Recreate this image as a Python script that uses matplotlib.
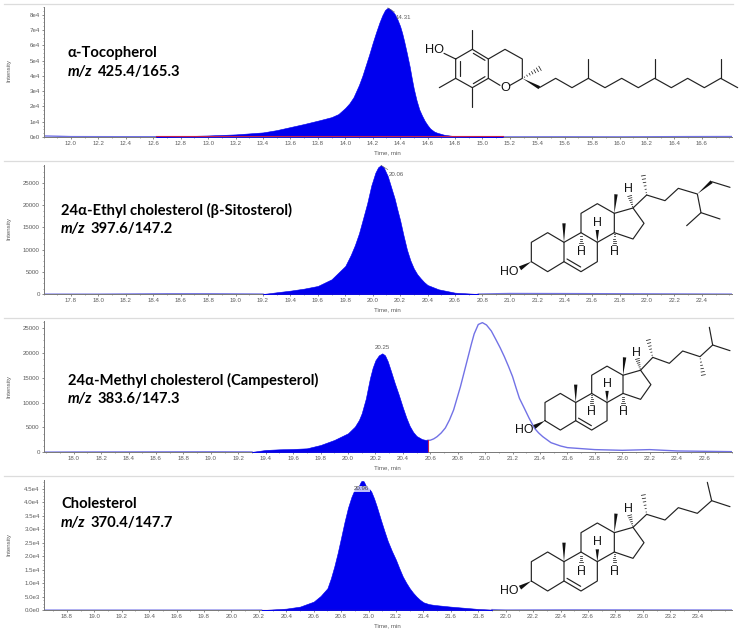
import matplotlib
matplotlib.use('Agg')
import matplotlib.pyplot as plt
from matplotlib.patches import Polygon
from matplotlib.ticker import MultipleLocator
import numpy as np

plt.rcParams['font.family'] = ['Liberation Sans', 'DejaVu Sans']

W, H = 741, 631
BLUE = '#0000ee'
TRACE = '#7272e6'
RED = '#c4204e'
GREY = '#5c5c5c'

# Traces (time in min, intensity in counts)
toco_t = [11.80, 11.90, 12.00, 12.30, 12.62, 12.80, 13.00, 13.20, 13.40, 13.50, 13.60, 13.70, 13.81, 13.90, 13.95,
          14.00, 14.03, 14.06, 14.10, 14.125, 14.15, 14.175, 14.20, 14.225, 14.25, 14.27, 14.29, 14.31, 14.33, 14.36,
          14.38, 14.40, 14.415, 14.43, 14.45, 14.47, 14.485, 14.50, 14.52, 14.54, 14.56, 14.58, 14.60, 14.62, 14.65,
          14.67, 14.72, 14.80, 15.00, 15.15, 15.60, 16.00, 16.50, 16.82]
toco_y = [700, 500, 250, 200, 200, 550, 1000, 1700, 3000, 4500, 6500, 8500, 10900, 13000, 15000,
          19000, 22000, 26000, 34000, 40000, 47000, 54000, 61500, 68500, 75000, 79500, 83000, 84500, 83500, 80500,
          77000, 72500, 68000, 62500, 54500, 46000, 38500, 31500, 24000, 18000, 14000, 10500, 7800, 5500, 3500,
          2800, 1500, 500, 250, 100, 150, 100, 250, 300]

sito_t = [17.60, 18.00, 18.50, 18.80, 19.20, 19.30, 19.40, 19.50, 19.60, 19.70, 19.80, 19.84, 19.87, 19.90, 19.93,
          19.96, 19.99, 20.02, 20.04, 20.06, 20.08, 20.11, 20.135, 20.16, 20.18, 20.20, 20.225, 20.25, 20.275, 20.30,
          20.325, 20.35, 20.375, 20.40, 20.48, 20.60, 20.77, 21.00, 21.50, 22.00, 22.62]
sito_y = [30, 30, 120, 120, 60, 450, 820, 1270, 1870, 3360, 6340, 8800, 11000, 13650, 17000,
          20400, 24400, 27300, 28500, 28950, 28500, 26500, 24000, 21500, 19000, 16640, 13200, 10000, 7600, 5800,
          4500, 3580, 2750, 2090, 1120, 370, 60, 180, 150, 100, 40]

camp_t = [17.78, 18.00, 18.50, 19.00, 19.30, 19.40, 19.50, 19.60, 19.70, 19.80, 19.90, 20.00, 20.05, 20.08, 20.10,
          20.13, 20.16, 20.18, 20.20, 20.225, 20.25, 20.27, 20.29, 20.315, 20.34, 20.37, 20.40, 20.425, 20.45, 20.475,
          20.50, 20.54, 20.58, 20.60, 20.625, 20.65, 20.68, 20.71, 20.74, 20.77, 20.82, 20.87, 20.90, 20.92, 20.95,
          20.98, 21.01, 21.045, 21.08, 21.11, 21.14, 21.17, 21.20, 21.225, 21.25, 21.285, 21.32, 21.36, 21.39, 21.42,
          21.48, 21.55, 21.60, 21.80, 22.00, 22.20, 22.40, 22.80]
camp_y = [30, 60, 80, 100, 80, 470, 600, 670, 800, 1470, 2480, 3820, 5160, 6500, 7840,
          10800, 14880, 17000, 18500, 19500, 19900, 19500, 18300, 16200, 14000, 11600, 9000, 7000, 5300, 4100,
          3280, 2650, 2410, 2430, 2700, 3150, 3900, 4900, 6500, 8500, 13200, 18570, 21800, 23800, 25700,
          26070, 25600, 24400, 22590, 21000, 19240, 17300, 15220, 13000, 10860, 8900, 6900, 4830, 3900, 3150,
          1940, 1270, 940, 540, 400, 540, 270, 130]

chol_t = [18.63, 19.00, 19.50, 20.00, 20.22, 20.40, 20.50, 20.60, 20.65, 20.70, 20.725, 20.75, 20.775, 20.80, 20.825,
          20.85, 20.875, 20.90, 20.93, 20.945, 20.955, 20.965, 20.98, 21.00, 21.02, 21.04, 21.06, 21.09, 21.115, 21.14,
          21.17, 21.20, 21.225, 21.25, 21.275, 21.30, 21.325, 21.35, 21.375, 21.40, 21.44, 21.48, 21.60, 21.80, 21.90,
          22.00, 22.50, 23.00, 23.65]
chol_y = [60, 60, 60, 60, 80, 620, 1360, 3220, 5300, 8170, 11800, 16200, 21300, 27000, 32800,
          38000, 42000, 45000, 46200, 47800, 48000, 47800, 46200, 45300, 44000, 41500, 38500, 33500, 29500, 25700,
          22000, 18700, 15500, 12500, 10200, 8170, 6500, 5070, 3900, 2970, 2300, 1980, 1360, 500, 250,
          100, 150, 120, 80]

toco_range = [12.62, 15.15]
sito_range = [19.20, 20.77]
camp_range = [19.30, 20.58]
chol_range = [20.22, 21.90]

toco_xticks = np.arange(12.0, 16.7, 0.2)
sito_xticks = np.arange(17.8, 22.5, 0.2)
camp_xticks = np.arange(18.0, 22.7, 0.2)
chol_xticks = np.arange(18.8, 23.5, 0.2)

toco_yticks = [0, 1e4, 2e4, 3e4, 4e4, 5e4, 6e4, 7e4, 8e4]
toco_ylabels = ['0e0', '1e4', '2e4', '3e4', '4e4', '5e4', '6e4', '7e4', '8e4']
sito_yticks = [0, 5000, 10000, 15000, 20000, 25000]
sito_ylabels = ['0', '5000', '10000', '15000', '20000', '25000']
camp_yticks = sito_yticks
camp_ylabels = sito_ylabels
chol_yticks = [0, 5e3, 1e4, 1.5e4, 2e4, 2.5e4, 3e4, 3.5e4, 4e4, 4.5e4]
chol_ylabels = ['0.0e0', '5.0e3', '1.0e4', '1.5e4', '2.0e4', '2.5e4', '3.0e4', '3.5e4', '4.0e4', '4.5e4']

# Skeleton of the steroid core, in 3x zoom pixels of the sitosterol drawing
ring_a = [(484, 305), (484, 247), (533, 218), (582, 247), (582, 305), (533, 335), (484, 305)]
ring_b = [(582, 247), (633, 218), (682, 247), (682, 305), (633, 335), (582, 305)]
ring_c = [(633, 218), (633, 160), (682, 131), (733, 160), (733, 218), (682, 247)]
ring_d = [(733, 160), (789, 144), (822, 190), (789, 237), (733, 218)]
double_bond = [(591, 297), (632, 321)]

fig = plt.figure(figsize=(W / 100, H / 100), dpi=100)


def panel(t, y, rng, xticks, yticks, ylabels, xlim, ytop, top, base, ylabel_y):
    ax = fig.add_axes([43.5 / W, 1 - base / H, (732 - 43.5) / W, (base - top) / H])
    t = np.array(t)
    y = np.array(y)
    inside = (t >= rng[0]) & (t <= rng[1])
    # trace only shows outside the integrated peak
    ax.plot(t[t <= rng[0] + 0.01], y[t <= rng[0] + 0.01], color=TRACE, lw=1.0, zorder=2)
    ax.plot(t[t >= rng[1] - 0.01], y[t >= rng[1] - 0.01], color=TRACE, lw=1.0, zorder=2)
    ax.fill_between(t, 0, y, where=inside, facecolor=BLUE, edgecolor=BLUE, lw=0.4, zorder=3)
    ax.set_xlim(xlim)
    ax.set_ylim(0, ytop)
    ax.set_yticks(yticks)
    ax.set_yticklabels(ylabels)
    ax.set_xticks(xticks)
    ax.xaxis.set_major_formatter('{x:.1f}')
    ax.xaxis.set_minor_locator(MultipleLocator(0.1))
    ax.yaxis.set_minor_locator(MultipleLocator(yticks[1] / 4))
    ax.tick_params(which='major', labelsize=4.4, length=1.5, width=0.5, pad=1.2, colors=GREY)
    ax.tick_params(which='minor', length=1, width=0.4, colors=GREY)
    for s in ['top', 'right']:
        ax.spines[s].set_visible(False)
    for s in ['left', 'bottom']:
        ax.spines[s].set_color('#777777')
        ax.spines[s].set_linewidth(0.7)
    ax.patch.set_alpha(0)
    ax.plot(rng, [ytop * 0.004, ytop * 0.004], color=RED, lw=0.8, zorder=4)
    fig.text(387 / W, 1 - (base + 15.5) / H, 'Time, min', fontsize=4.4, color=GREY, ha='center', va='center')
    fig.text(8.5 / W, 1 - ylabel_y / H, 'Intensity', fontsize=4.4, color=GREY, rotation=90, ha='center', va='center')
    return ax


ax1 = panel(toco_t, toco_y, toco_range, toco_xticks, toco_yticks, toco_ylabels, (11.80, 16.82), 85000, 7, 137, 70)
ax2 = panel(sito_t, sito_y, sito_range, sito_xticks, sito_yticks, sito_ylabels, (17.60, 22.62), 29000, 165, 294.3, 229)
ax3 = panel(camp_t, camp_y, camp_range, camp_xticks, camp_yticks, camp_ylabels, (17.78, 22.80), 26300, 321.5, 452.3, 387)
ax4 = panel(chol_t, chol_y, chol_range, chol_xticks, chol_yticks, chol_ylabels, (18.63, 23.65), 48300, 480, 610.3, 545)

ax1.annotate('14.31', xy=(14.31, 84500), xytext=(11, -7), textcoords='offset points', fontsize=4.4, color=GREY,
             ha='center', va='center', arrowprops=dict(arrowstyle='-', color=GREY, lw=0.4, shrinkA=0, shrinkB=0))
ax2.annotate('20.06', xy=(20.06, 28950), xytext=(11, -7), textcoords='offset points', fontsize=4.4, color=GREY,
             ha='center', va='center', arrowprops=dict(arrowstyle='-', color=GREY, lw=0.4, shrinkA=0, shrinkB=0))
ax3.text(20.25, 21100, '20.25', fontsize=4.4, color=GREY, ha='center', va='center')
ax4.text(20.95, 45000, '20.96', fontsize=4.4, color='#444444', ha='center', va='center', zorder=5,
         bbox=dict(fc='white', ec='none', alpha=0.75, pad=0.3))
ax3.plot([camp_range[1], camp_range[1]], [0, 2410], color=RED, lw=0.8, zorder=4)

# Overlay in image pixels for separators, labels and structures
ov = fig.add_axes([0, 0, 1, 1], zorder=10)
ov.set_xlim(0, W)
ov.set_ylim(H, 0)
ov.axis('off')

for sy in [3.5, 161, 318, 476]:
    ov.plot([4, 733], [sy, sy], color='#dcdcdc', lw=0.9)


def label(x, y1, y2, num_x, name, mz):
    ov.text(x, y1, name, fontfamily='Lato', fontweight='bold', fontsize=10.6, ha='left', va='center')
    ov.text(x, y2, 'm/z', fontfamily='Lato', fontweight='bold', fontstyle='italic', fontsize=10.6, ha='left', va='center')
    ov.text(num_x, y2, mz, fontfamily='Lato', fontweight='bold', fontsize=10.6, ha='left', va='center')


label(68, 53, 72, 98, 'α-Tocopherol', '425.4/165.3')
label(61, 210, 229, 91, '24α-Ethyl cholesterol (β-Sitosterol)', '397.6/147.2')
label(68, 380, 399, 98, '24α-Methyl cholesterol (Campesterol)', '383.6/147.3')
label(61, 504, 523, 91, 'Cholesterol', '370.4/147.7')


def line(pts, tf):
    p = np.array([tf(q) for q in pts])
    ov.plot(p[:, 0], p[:, 1], color='#222222', lw=0.85, solid_capstyle='round', solid_joinstyle='round')


def wedge(a, b, tf, w=1.7):
    a, b = np.array(tf(a)), np.array(tf(b))
    d = b - a
    n = np.array([-d[1], d[0]]) / np.hypot(*d) * w
    ov.add_patch(Polygon([a, b + n, b - n], color='#111111', lw=0))


def hashed(a, b, tf, w=2.0, k=6):
    a, b = np.array(tf(a)), np.array(tf(b))
    d = b - a
    n = np.array([-d[1], d[0]]) / np.hypot(*d)
    for f in np.linspace(0.12, 1, k):
        c = a + d * f
        ov.plot([c[0] - n[0] * w * f, c[0] + n[0] * w * f], [c[1] - n[1] * w * f, c[1] + n[1] * w * f],
                color='#222222', lw=0.55)


def atom(pos, s, tf, size=8.9):
    x, y = tf(pos)
    ov.text(x, y, s, fontsize=size, color='#111111', ha='center', va='center')


def steroid(core, c20):
    line(ring_a, core)
    line(ring_b, core)
    line(ring_c, core)
    line(ring_d, core)
    line(double_bond, core)
    wedge((733, 160), (738, 103), core)
    wedge((582, 247), (582, 190), core)
    wedge((484, 305), (450, 325), core, 2.2)
    wedge((682, 247), (682, 210), core)
    hashed((633, 218), (633, 256), core)
    hashed((733, 218), (733, 256), core)
    hashed((789, 144), (779, 108), core)
    atom((418, 335), 'HO', core)
    atom((633, 277), 'H', core)
    atom((682, 188), 'H', core)
    atom((733, 277), 'H', core)
    atom((775, 88), 'H', core)
    line([(789, 144), c20], core)


# Tocopherol
def tf1(p):
    return 370 + p[0] / 3, p[1] / 3


line([(257, 177), (307, 148), (355, 177), (355, 235), (307, 263), (257, 235), (257, 177)], tf1)
line([(269, 184), (269, 228)], tf1)
line([(310, 160), (345, 181)], tf1)
line([(310, 251), (345, 230)], tf1)
line([(307, 148), (307, 90)], tf1)
line([(257, 235), (208, 263)], tf1)
line([(307, 263), (307, 320)], tf1)
line([(222, 160), (257, 177)], tf1)
line([(355, 177), (405, 148), (457, 177), (457, 235), (420, 256)], tf1)
line([(390, 256), (355, 235)], tf1)
hashed((457, 235), (510, 205), tf1, 2.4, 7)
wedge((457, 235), (508, 263), tf1)
line([(508, 263), (557, 235), (606, 263), (655, 235), (705, 263), (755, 235), (805, 263), (854, 235), (904, 263),
      (953, 235), (1003, 263), (1052, 235), (1103, 263)], tf1)
line([(655, 235), (655, 177)], tf1)
line([(854, 235), (854, 177)], tf1)
line([(1052, 235), (1052, 177)], tf1)
atom((195, 150), 'HO', tf1, 9.2)
atom((405, 264), 'O', tf1, 9.2)


# Sitosterol
def tf2(p):
    return 370 + p[0] / 3, 160 + p[1] / 3


steroid(tf2, (830, 105))
line([(830, 105), (885, 122), (925, 85), (982, 102), (993, 158), (950, 197)], tf2)
line([(993, 158), (1050, 177)], tf2)
wedge((982, 102), (1025, 65), tf2)
line([(1025, 65), (1080, 82)], tf2)
hashed((830, 105), (820, 47), tf2)


# Campesterol, same core a little smaller
def tf3(p):
    return 370 + (525 + (p[0] - 484) * 0.94) / 3, 320 + (302 + (p[1] - 305) * 0.94) / 3


def tf3c(p):
    return 370 + p[0] / 3, 320 + p[1] / 3


steroid(tf3, (828, 103))
line([(848, 112), (898, 130), (938, 93), (990, 110), (1028, 75), (1018, 22)], tf3c)
line([(1028, 75), (1080, 92)], tf3c)
hashed((990, 110), (1000, 165), tf3c)
hashed((848, 112), (835, 60), tf3c)


# Cholesterol
def tf4(p):
    return 370 + p[0] / 3, 470 + 28 / 3 + p[1] / 3


steroid(tf4, (830, 105))
line([(830, 105), (885, 122), (925, 85), (982, 102), (1025, 64), (1080, 82)], tf4)
line([(1025, 64), (1012, 9)], tf4)
hashed((830, 105), (820, 47), tf4)

fig.savefig('out.png', dpi=100)
